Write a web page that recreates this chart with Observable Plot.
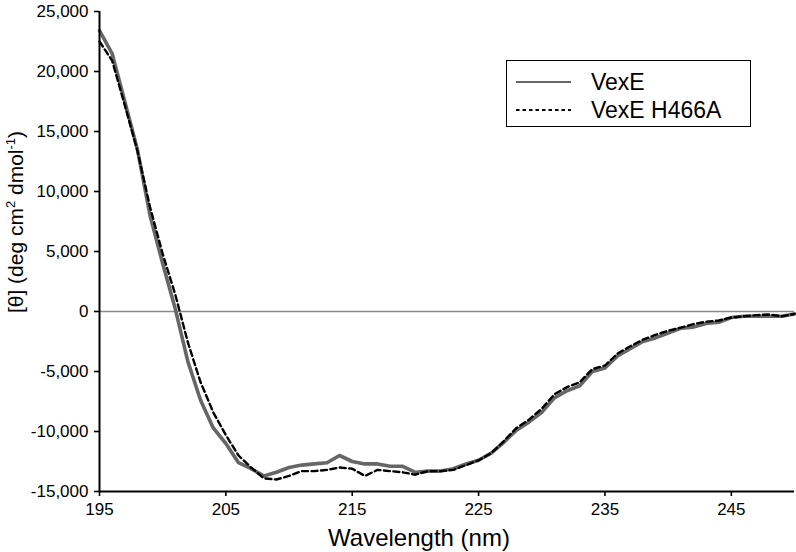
<!DOCTYPE html>
<html>
<head>
<meta charset="utf-8">
<script src="https://cdn.jsdelivr.net/npm/d3@7"></script>
<script src="https://cdn.jsdelivr.net/npm/@observablehq/plot@0.6"></script>
<style>
  html, body { margin: 0; padding: 0; background: #fff; }
  #wrap { position: relative; width: 796px; height: 552px; font-family: "Liberation Sans", Arial, sans-serif; }
  #legend { position: absolute; left: 506px; top: 60px; width: 243px; height: 65px; border: 1.5px solid #000; background: #fff; }
  #legend .row { position: absolute; left: 0; height: 28px; display: flex; align-items: center; }
  #legend .row span { font-size: 23px; color: #000; margin-left: 14px; line-height: 1; }
  #ylabel { position: absolute; left: 15px; top: 222px; transform: translate(-50%, -50%) rotate(-90deg); white-space: nowrap; font-size: 21px; line-height: 1; color: #000; }
  #ylabel sup { font-size: 13px; vertical-align: 0; position: relative; top: -8px; }
</style>
</head>
<body>
<div id="wrap"></div>
<script>
const wavelengths = d3.range(195, 251);
const vexE = [
  23400, 21500, 17500, 13500, 8000, 4000, 200, -4200, -7400, -9700,
  -11000, -12600, -13100, -13700, -13400, -13000, -12800, -12700, -12600, -12000,
  -12500, -12700, -12700, -12900, -12900, -13400, -13300, -13300, -13100, -12700,
  -12400, -11800, -10900, -9900, -9200, -8400, -7200, -6600, -6200, -5000,
  -4700, -3700, -3100, -2500, -2200, -1800, -1400, -1300, -1000, -900,
  -500, -400, -400, -400, -400, -200
];
const vexEH466A = [
  22500, 20900, 17200, 13400, 8700, 4800, 1400, -2600, -5900, -8400,
  -10300, -12000, -13000, -13900, -14000, -13700, -13300, -13300, -13200, -13000,
  -13100, -13700, -13200, -13300, -13400, -13600, -13300, -13300, -13200, -12800,
  -12400, -11800, -10800, -9700, -9000, -8100, -6900, -6300, -5900, -4800,
  -4500, -3500, -2900, -2350, -1950, -1600, -1350, -1050, -850, -750,
  -500, -400, -300, -250, -400, -200
];
const seriesNames = ["VexE", "VexE H466A"];
const xTicks = [195, 205, 215, 225, 235, 245];
const yTicks = [-15000, -10000, -5000, 0, 5000, 10000, 15000, 20000, 25000];
const xLabel = "Wavelength (nm)";
const yLabelParts = ["[θ] (deg cm", "2", " dmol", "-1", ")"];

const rowsA = wavelengths.map((w, i) => ({w, v: vexE[i]}));
const rowsB = wavelengths.map((w, i) => ({w, v: vexEH466A[i]}));
const fmt = d => d.toLocaleString("en-US");

const chart = Plot.plot({
  width: 796,
  height: 552,
  marginTop: 11,
  marginBottom: 61,
  marginLeft: 99,
  marginRight: 2,
  style: { fontFamily: "'Liberation Sans', Arial, sans-serif", color: "#000", background: "#fff" },
  x: { domain: [195, 250] },
  y: { domain: [-15000, 25000] },
  marks: [
    Plot.ruleY([0], { stroke: "#8a8a8a", strokeWidth: 1.6 }),
    Plot.line(rowsA, { x: "w", y: "v", stroke: "#666666", strokeWidth: 3.6, curve: "linear" }),
    Plot.line(rowsB, { x: "w", y: "v", stroke: "#000", strokeWidth: 2.4, strokeDasharray: "6,3.5", curve: "linear" }),
    Plot.ruleX([195], { stroke: "#000", strokeWidth: 2 }),
    Plot.ruleY([-15000], { stroke: "#000", strokeWidth: 2 }),
    Plot.axisY({ ticks: yTicks, tickFormat: fmt, tickSize: 5, tickPadding: 6, fontSize: 17, label: null, strokeWidth: 1.6, stroke: "#000" }),
    Plot.axisX({ ticks: xTicks, tickFormat: d => String(d), tickSize: 5, tickPadding: 6, fontSize: 17, label: null, strokeWidth: 1.6, stroke: "#000" }),
    Plot.text([xLabel], { text: d => d, frameAnchor: "bottom", dx: -28, dy: 47, fontSize: 24, lineAnchor: "middle", fill: "#000" })
  ]
});
const wrap = document.getElementById("wrap");
wrap.appendChild(chart);

// Y axis title (rotated, with superscripts)
const yl = document.createElement("div");
yl.id = "ylabel";
yl.innerHTML = `${yLabelParts[0]}<sup>${yLabelParts[1]}</sup>${yLabelParts[2]}<sup>${yLabelParts[3]}</sup>${yLabelParts[4]}`;
wrap.appendChild(yl);

// Legend
const legend = document.createElement("div");
legend.id = "legend";
const styles = [
  { stroke: "#666666", width: 2.2, dash: null },
  { stroke: "#000", width: 2, dash: "3.5,3" }
];
seriesNames.forEach((name, i) => {
  const row = document.createElement("div");
  row.className = "row";
  row.style.top = (7 + i * 28) + "px";
  const s = styles[i];
  row.innerHTML = `<svg width="70" height="28" style="display:block"><line x1="9" x2="64" y1="14" y2="14" stroke="${s.stroke}" stroke-width="${s.width}" ${s.dash ? `stroke-dasharray="${s.dash}"` : ""}/></svg><span>${name}</span>`;
  legend.appendChild(row);
});
wrap.appendChild(legend);
</script>
</body>
</html>
